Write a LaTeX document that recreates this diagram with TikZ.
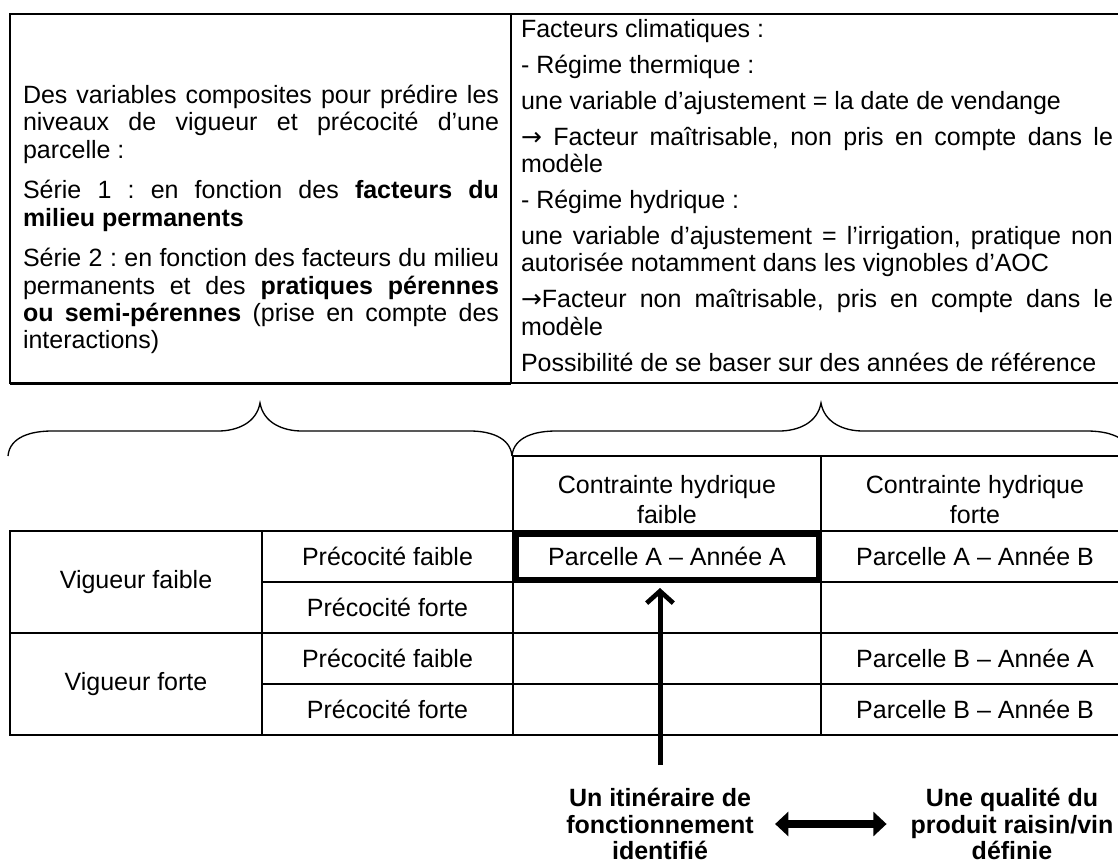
\documentclass[tikz,border=0pt]{standalone}
\usepackage{fontspec}
\setmainfont{Liberation Sans}
\newfontfamily\arrowfont{DejaVu Sans}
\usetikzlibrary{arrows.meta}
\usetikzlibrary{positioning}
\pgfdeclarelayer{nodelayer}
\pgfdeclarelayer{edgelayer}
\pgfsetlayers{edgelayer,nodelayer,main}
\newcommand{\cellgap}[1]{\par\vspace{#1}}
\newcommand{\rarr}{{\arrowfont →}}
\tikzset{txt/.style={font=\fontsize{18.75}{20.5}\selectfont\frenchspacing, inner sep=0pt, outer sep=0pt}}
\tikzset{bold/.style={font=\fontsize{18.75}{20}\selectfont\bfseries, inner sep=0pt, outer sep=0pt, align=center}}
\tikzset{para/.style={txt, align=justify, anchor=north west, text width=#1}}
\tikzset{frame/.style={draw, line width=1.5pt, inner sep=0pt, outer sep=0pt}}
\tikzset{cell/.style={txt, draw, line width=2pt, align=center, minimum height=38.25pt}}
\tikzset{brace/.style={line width=1pt}}
\tikzset{upArrow/.style={line width=3.75pt, -{Straight Barb[length=9pt, width=20pt, line width=3.5pt]}}}
\tikzset{bothArrow/.style={line width=6pt, {Triangle[length=10pt, width=18pt]}-{Triangle[length=10pt, width=18pt]}}}
\begin{document}
\begin{tikzpicture}[x=0.75pt, y=-0.75pt]
	\useasboundingbox (0,0) rectangle (1118,864);
	\clip (0,0) rectangle (1118,864);
	\begin{pgfonlayer}{nodelayer}
		% top box
		\node [style=frame, minimum width=375.75pt, minimum height=276.75pt] (leftBox) at (260.5, 198.5) {};
		\node [style=frame, minimum width=460.5pt, minimum height=276.75pt] (rightBox) at (818, 198.5) {};
		\node [para=357pt] (serie) at (23, 85) {%
			Des variables composites pour prédire les\linebreak
			niveaux de vigueur et précocité d’une\linebreak
			parcelle~:\cellgap{10pt}
			Série 1 : en fonction des \textbf{facteurs du\linebreak
			milieu permanents}\cellgap{10pt}
			Série 2 : en fonction des facteurs du milieu\linebreak
			permanents et des \textbf{pratiques pérennes\linebreak
			ou semi-pérennes} (prise en compte des\linebreak
			interactions)};
		\node [para=444pt] (climat) at (521, 19) {%
			Facteurs climatiques~:\cellgap{6.5pt}
			- Régime thermique~:\cellgap{6.5pt}
			une variable d’ajustement = la date de vendange\cellgap{6.5pt}
			\rarr{} Facteur maîtrisable, non pris en compte dans le\linebreak
			modèle\cellgap{6.5pt}
			- Régime hydrique~:\cellgap{6.5pt}
			une variable d’ajustement = l’irrigation, pratique non\linebreak
			autorisée notamment dans les vignobles d’AOC\cellgap{6.5pt}
			\rarr{}Facteur non maîtrisable, pris en compte dans le\linebreak
			modèle\cellgap{6.5pt}
			Possibilité de se baser sur des années de référence};
		% table
		\node [style=cell, minimum width=231pt, minimum height=56.25pt] (hdFaible) at (667, 493.5) {};
		\node [style=cell, minimum width=231pt, minimum height=56.25pt] (hdForte) at (975, 493.5) {};
		\node [style=txt, align=center] (hdFaibleTxt) at (667, 499.5) {Contrainte hydrique\\[2pt]faible};
		\node [style=txt, align=center] (hdForteTxt) at (975, 499.5) {Contrainte hydrique\\[2pt]forte};
		\node [style=cell, minimum width=189pt, minimum height=76.5pt] (vigFaible) at (136, 582) {Vigueur faible};
		\node [style=cell, minimum width=189pt, minimum height=76.5pt] (vigForte) at (136, 684) {Vigueur forte};
		\node [style=cell, minimum width=188.25pt] (precA) at (387.5, 556.5) {Précocité faible};
		\node [style=cell, minimum width=188.25pt] (precB) at (387.5, 607.5) {Précocité forte};
		\node [style=cell, minimum width=188.25pt] (precC) at (387.5, 658.5) {Précocité faible};
		\node [style=cell, minimum width=188.25pt] (precD) at (387.5, 709.5) {Précocité forte};
		\node [style=cell, minimum width=231pt] (pAA) at (667, 556.5) {Parcelle A – Année A};
		\node [style=cell, minimum width=231pt] (empty1) at (667, 607.5) {};
		\node [style=cell, minimum width=231pt] (empty2) at (667, 658.5) {};
		\node [style=cell, minimum width=231pt] (empty3) at (667, 709.5) {};
		\node [style=cell, minimum width=231pt] (pAB) at (975, 556.5) {Parcelle A – Année B};
		\node [style=cell, minimum width=231pt] (empty4) at (975, 607.5) {};
		\node [style=cell, minimum width=231pt] (pBA) at (975, 658.5) {Parcelle B – Année A};
		\node [style=cell, minimum width=231pt] (pBB) at (975, 709.5) {Parcelle B – Année B};
		% bottom labels
		\node [style=bold] (itin) at (660, 824) {Un itinéraire de\\fonctionnement\\identifié};
		\node [style=bold] (qual) at (1012, 824) {Une qualité du\\produit raisin/vin\\définie};
		\coordinate (foot) at (660, 765);
	\end{pgfonlayer}
	\begin{pgfonlayer}{edgelayer}
		\draw [line width=2.25pt] (leftBox.south west) to (leftBox.south east);
		\draw [brace] (8,456) to [out=85, in=180] (52,431) -- (218,431) to [out=0, in=-100] (260,403)
			to [out=-80, in=180] (302,431) -- (470,431) to [out=0, in=95] (512,456);
		\draw [brace] (512,456) to [out=85, in=180] (556,431) -- (779,431) to [out=0, in=-100] (821,403)
			to [out=-80, in=180] (863,431) -- (1087,431) to [out=0, in=95] (1131,456);
		\draw [style=upArrow, shorten >=4.5pt] (foot) to (foot |- pAA.south);
		\draw [style=bothArrow, shorten <=16pt, shorten >=18pt] (itin) to (qual);
	\end{pgfonlayer}
	\draw [line width=4.5pt] ([shift={(2.5,2.5)}]pAA.north west) rectangle ([shift={(-2.5,-2.5)}]pAA.south east);
\end{tikzpicture}
\end{document}
